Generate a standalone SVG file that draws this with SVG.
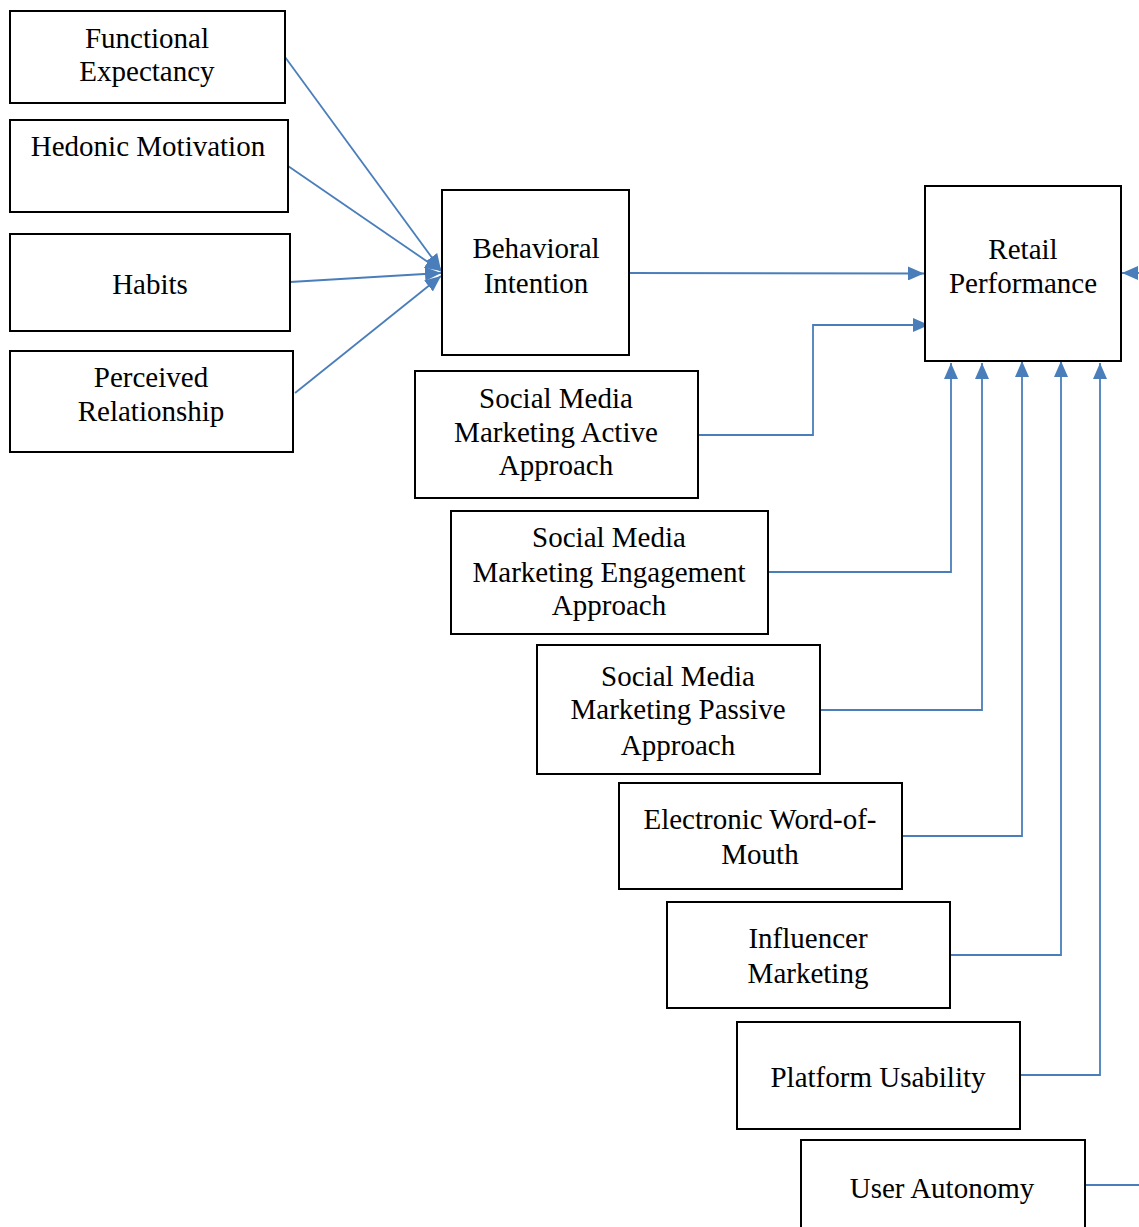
<svg xmlns="http://www.w3.org/2000/svg" width="1139" height="1227" viewBox="0 0 1139 1227">
<style>
.box{fill:#fff;stroke:#000;stroke-width:2}
.t{font-family:"Liberation Serif","Times New Roman",serif;font-size:29px;fill:#000;text-anchor:middle}
.c{fill:none;stroke:#4a7ebb;stroke-width:1.8}
</style>
<defs>
<marker id="ah" viewBox="0 0 16 14" refX="16" refY="7" markerWidth="16" markerHeight="14" markerUnits="userSpaceOnUse" orient="auto">
<path d="M0,0 L16,7 L0,14 Z" fill="#4a7ebb"/>
</marker>
</defs>
<rect width="1139" height="1227" fill="#fff"/>
<g id="connectors">
<line class="c" x1="285" y1="57" x2="441" y2="270" marker-end="url(#ah)"/>
<line class="c" x1="288" y1="166" x2="441" y2="271" marker-end="url(#ah)"/>
<line class="c" x1="290" y1="282" x2="441" y2="273" marker-end="url(#ah)"/>
<line class="c" x1="295" y1="393" x2="441" y2="276" marker-end="url(#ah)"/>
<line class="c" x1="629" y1="273" x2="924" y2="273.5" marker-end="url(#ah)"/>
<polyline class="c" points="698,435 813,435 813,325 929,325" marker-end="url(#ah)"/>
<polyline class="c" points="768,572 951,572 951,363" marker-end="url(#ah)"/>
<polyline class="c" points="820,710 982,710 982,363" marker-end="url(#ah)"/>
<polyline class="c" points="902,836 1022,836 1022,361" marker-end="url(#ah)"/>
<polyline class="c" points="950,955 1061,955 1061,361" marker-end="url(#ah)"/>
<polyline class="c" points="1020,1075 1100,1075 1100,363" marker-end="url(#ah)"/>
<line class="c" x1="1085" y1="1185" x2="1139" y2="1185"/>
<line class="c" x1="1145" y1="273" x2="1122" y2="273" marker-end="url(#ah)"/>
</g>
<g id="functional-expectancy">
<rect class="box" x="10" y="11" width="275" height="92"/>
<text class="t" x="147" y="48">Functional</text>
<text class="t" x="147" y="81">Expectancy</text>
</g>
<g id="hedonic-motivation">
<rect class="box" x="10" y="120" width="278" height="92"/>
<text class="t" x="148" y="156">Hedonic Motivation</text>
</g>
<g id="habits">
<rect class="box" x="10" y="234" width="280" height="97"/>
<text class="t" x="150" y="294">Habits</text>
</g>
<g id="perceived-relationship">
<rect class="box" x="10" y="351" width="283" height="101"/>
<text class="t" x="151" y="387">Perceived</text>
<text class="t" x="151" y="421">Relationship</text>
</g>
<g id="behavioral-intention">
<rect class="box" x="442" y="190" width="187" height="165"/>
<text class="t" x="536" y="258">Behavioral</text>
<text class="t" x="536" y="293">Intention</text>
</g>
<g id="retail-performance">
<rect class="box" x="925" y="186" width="196" height="175"/>
<text class="t" x="1023" y="259">Retail</text>
<text class="t" x="1023" y="293">Performance</text>
</g>
<g id="smm-active">
<rect class="box" x="415" y="371" width="283" height="127"/>
<text class="t" x="556" y="408">Social Media</text>
<text class="t" x="556" y="442">Marketing Active</text>
<text class="t" x="556" y="475">Approach</text>
</g>
<g id="smm-engagement">
<rect class="box" x="451" y="511" width="317" height="123"/>
<text class="t" x="609" y="547">Social Media</text>
<text class="t" x="609" y="582">Marketing Engagement</text>
<text class="t" x="609" y="615">Approach</text>
</g>
<g id="smm-passive">
<rect class="box" x="537" y="645" width="283" height="129"/>
<text class="t" x="678" y="686">Social Media</text>
<text class="t" x="678" y="719">Marketing Passive</text>
<text class="t" x="678" y="755">Approach</text>
</g>
<g id="ewom">
<rect class="box" x="619" y="783" width="283" height="106"/>
<text class="t" x="760" y="829">Electronic Word-of-</text>
<text class="t" x="760" y="864">Mouth</text>
</g>
<g id="influencer-marketing">
<rect class="box" x="667" y="902" width="283" height="106"/>
<text class="t" x="808" y="948">Influencer</text>
<text class="t" x="808" y="983">Marketing</text>
</g>
<g id="platform-usability">
<rect class="box" x="737" y="1022" width="283" height="107"/>
<text class="t" x="878" y="1087">Platform Usability</text>
</g>
<g id="user-autonomy">
<rect class="box" x="801" y="1140" width="284" height="100"/>
<text class="t" x="942" y="1198">User Autonomy</text>
</g>
</svg>
